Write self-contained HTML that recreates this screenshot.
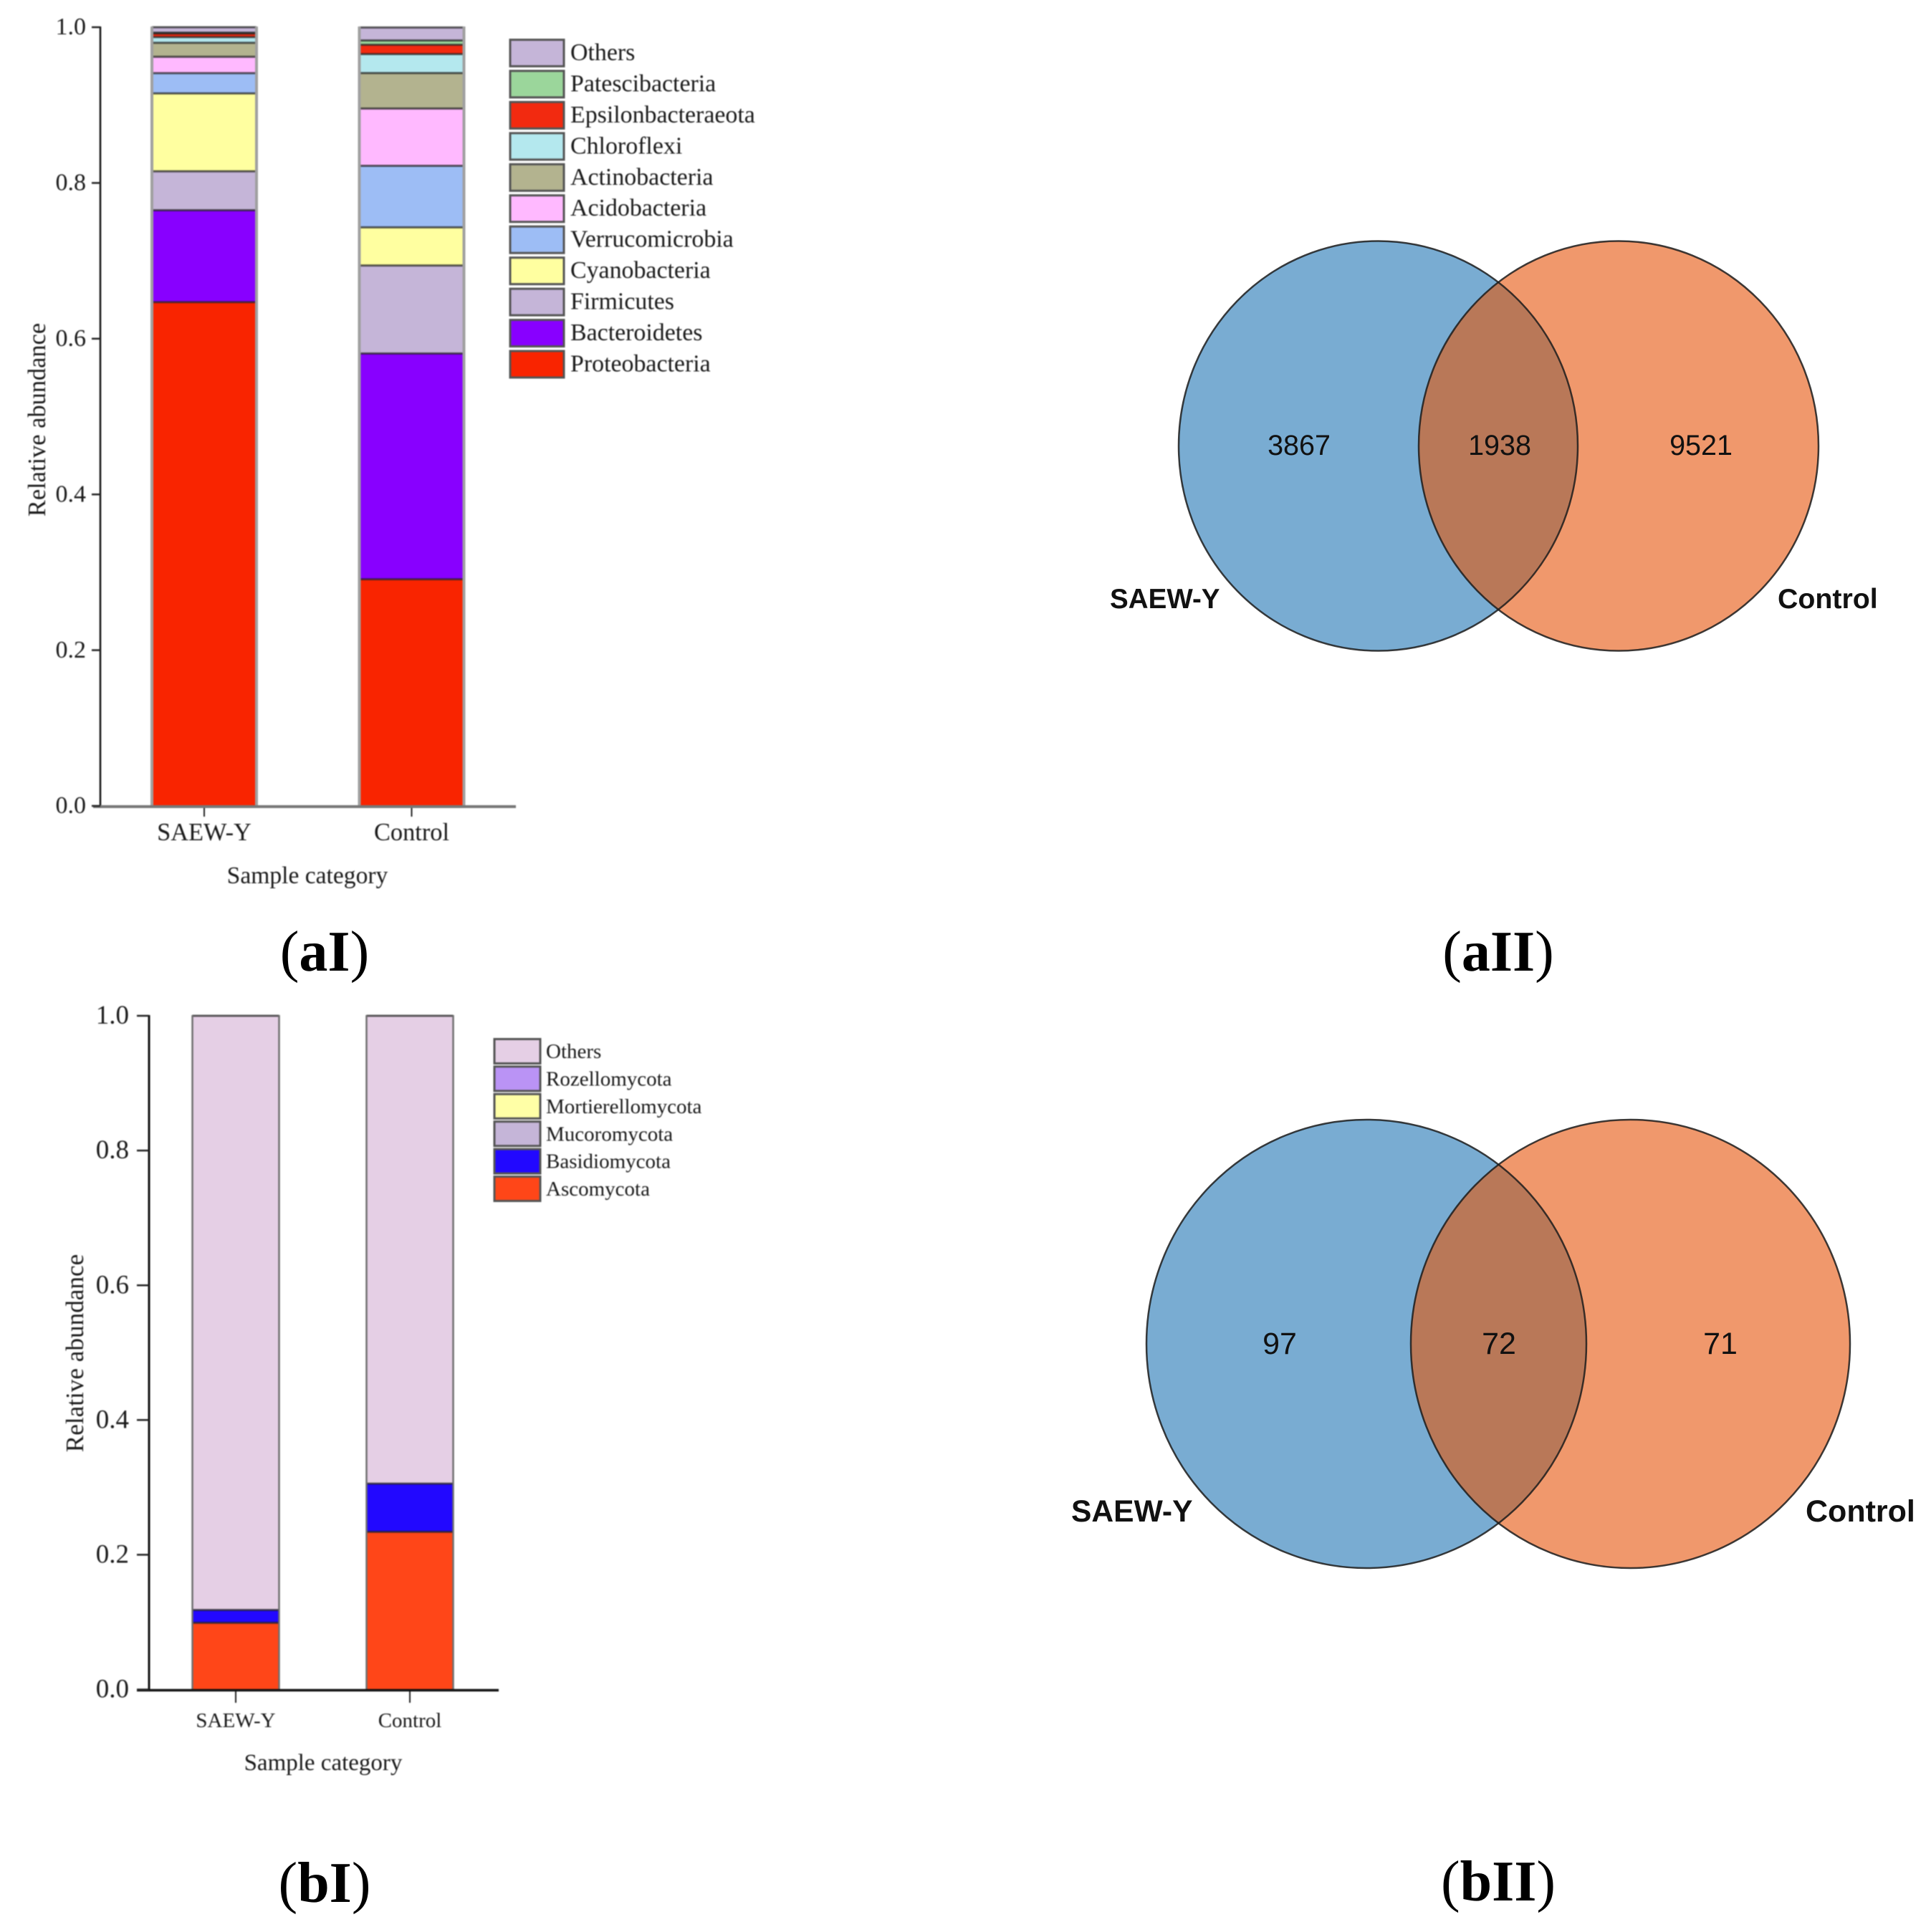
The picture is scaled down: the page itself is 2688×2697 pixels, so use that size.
<!DOCTYPE html>
<html lang="en">
<head>
<meta charset="utf-8">
<title>Relative abundance and Venn diagrams</title>
<style>
  html,body{margin:0;padding:0;background:#fff;}
  svg{display:block;}
  .serif{font-family:"Liberation Serif",serif;fill:#1a1a1a;}
  .sans{font-family:"Liberation Sans",sans-serif;fill:#111;}
  .panel{font-family:"Liberation Serif",serif;font-weight:bold;font-size:80px;fill:#000;text-anchor:middle;}
  .paren{font-weight:normal;}
  .soft{filter:blur(0.9px);}
</style>
</head>
<body>
<svg id="figure" xmlns="http://www.w3.org/2000/svg" width="2688" height="2697" viewBox="0 0 2688 2697">
  <rect width="2688" height="2697" fill="#fff"/>
  <defs>
    <clipPath id="clip-a"><ellipse cx="1923.5" cy="622.5" rx="278.5" ry="286"/></clipPath>
    <clipPath id="clip-b"><ellipse cx="1907" cy="1876" rx="307" ry="313"/></clipPath>
  </defs>

  <g id="chart-a" class="soft">
    <text class="serif" font-size="34.4" text-anchor="middle" transform="translate(63,586) rotate(-90)">Relative abundance</text>
    <text class="serif" font-size="33.6" text-anchor="middle" x="429" y="1233">Sample category</text>
  </g>
  <g id="chart-b" class="soft">
    <text class="serif" font-size="35.2" text-anchor="middle" transform="translate(116,1889) rotate(-90)">Relative abundance</text>
    <text class="serif" font-size="33" text-anchor="middle" x="451" y="2471">Sample category</text>
  </g>

  <g>
    <ellipse cx="1923.5" cy="622.5" rx="278.5" ry="286" fill="#79acd2"/>
    <ellipse cx="2259" cy="622.5" rx="279" ry="286" fill="#f0986c"/>
    <ellipse cx="2259" cy="622.5" rx="279" ry="286" fill="#b97858" clip-path="url(#clip-a)"/>
    <ellipse cx="1923.5" cy="622.5" rx="278.5" ry="286" fill="none" stroke="#1c1c1c" stroke-opacity=".85" stroke-width="2.5"/>
    <ellipse cx="2259" cy="622.5" rx="279" ry="286" fill="none" stroke="#1c1c1c" stroke-opacity=".85" stroke-width="2.5"/>
    <text class="sans" font-size="39.5" text-anchor="middle" x="1813" y="635">3867</text>
    <text class="sans" font-size="39.5" text-anchor="middle" x="2093" y="635">1938</text>
    <text class="sans" font-size="39.5" text-anchor="middle" x="2374" y="635">9521</text>
    <text class="sans" font-weight="bold" font-size="38.6" x="1549" y="849">SAEW-Y</text>
    <text class="sans" font-weight="bold" font-size="39.3" x="2481" y="849">Control</text>
  </g>

  <g>
    <ellipse cx="1907" cy="1876" rx="307" ry="313" fill="#79acd2"/>
    <ellipse cx="2275.5" cy="1876" rx="306.5" ry="313" fill="#f0986c"/>
    <ellipse cx="2275.5" cy="1876" rx="306.5" ry="313" fill="#b97858" clip-path="url(#clip-b)"/>
    <ellipse cx="1907" cy="1876" rx="307" ry="313" fill="none" stroke="#1c1c1c" stroke-opacity=".85" stroke-width="2.5"/>
    <ellipse cx="2275.5" cy="1876" rx="306.5" ry="313" fill="none" stroke="#1c1c1c" stroke-opacity=".85" stroke-width="2.5"/>
    <text class="sans" font-size="43" text-anchor="middle" x="1786" y="1890">97</text>
    <text class="sans" font-size="43" text-anchor="middle" x="2092" y="1890">72</text>
    <text class="sans" font-size="43" text-anchor="middle" x="2401" y="1890">71</text>
    <text class="sans" font-weight="bold" font-size="42.6" x="1495" y="2124">SAEW-Y</text>
    <text class="sans" font-weight="bold" font-size="43" x="2520" y="2124">Control</text>
  </g>

  <text class="panel" x="453" y="1355"><tspan class="paren">(</tspan>aI<tspan class="paren">)</tspan></text>
  <text class="panel" x="2091" y="1355"><tspan class="paren">(</tspan>aII<tspan class="paren">)</tspan></text>
  <text class="panel" x="453" y="2655"><tspan class="paren">(</tspan>bI<tspan class="paren">)</tspan></text>
  <text class="panel" x="2091" y="2653"><tspan class="paren">(</tspan>bII<tspan class="paren">)</tspan></text>
</svg>

<script>
// ---- Chart data (bottom of the stack first) ----
const categories = ['SAEW-Y', 'Control'];
const yTicks = [0, 0.2, 0.4, 0.6, 0.8, 1.0];

const bacteriaNames = ['Proteobacteria', 'Bacteroidetes', 'Firmicutes', 'Cyanobacteria', 'Verrucomicrobia', 'Acidobacteria', 'Actinobacteria', 'Chloroflexi', 'Epsilonbacteraeota', 'Patescibacteria', 'Others'];
const bacteriaSaew = [0.647, 0.118, 0.050, 0.100, 0.026, 0.021, 0.018, 0.0074, 0.0046, 0.001, 0.007];
const bacteriaControl = [0.291, 0.290, 0.113, 0.049, 0.079, 0.0736, 0.0455, 0.0244, 0.012, 0.0055, 0.0166];
const bacteriaColors = ['#f92400', '#8800ff', '#c5b5d8', '#ffffa0', '#9dbdf5', '#ffb9ff', '#b3b38f', '#b4e8ee', '#f22a10', '#9bd69b', '#c5b5d8'];

const fungiNames = ['Ascomycota', 'Basidiomycota', 'Mucoromycota', 'Mortierellomycota', 'Rozellomycota', 'Others'];
const fungiSaew = [0.099, 0.019, 0, 0, 0, 0.882];
const fungiControl = [0.234, 0.0716, 0, 0, 0, 0.6944];
const fungiColors = ['#ff4618', '#2208ff', '#c5b5d8', '#ffffa6', '#ba93f5', '#e5cfe5'];

const SVGNS = 'http://www.w3.org/2000/svg';
function make(parent, tag, attrs, text) {
  const e = document.createElementNS(SVGNS, tag);
  for (const k in attrs) e.setAttribute(k, attrs[k]);
  if (text !== undefined) e.textContent = text;
  parent.appendChild(e);
  return e;
}

function drawChart(parent, layout, names, colors, seriesByCategory) {
  const yScale = v => layout.y0 - v * (layout.y0 - layout.y1);
  const xCenter = i => layout.firstCenter + i * layout.step;

  seriesByCategory.forEach(function (values, c) {
    const left = xCenter(c) - layout.barWidth / 2;
    const right = xCenter(c) + layout.barWidth / 2;
    let cumulative = 0;
    values.forEach(function (v, s) {
      const yTop = yScale(cumulative + v);
      const yBottom = yScale(cumulative);
      cumulative += v;
      if (v <= 0) return;
      const seg = make(parent, 'rect', { x: left, y: yTop, width: layout.barWidth, height: yBottom - yTop, fill: colors[s] });
      
      
    });
    cumulative = 0;
    values.forEach(function (v, s) {
      cumulative += v;
      if (v <= 0) return;
      const yLine = yScale(cumulative);
      const sep = make(parent, 'line', { x1: left, x2: right, y1: yLine, y2: yLine, stroke: '#222', 'stroke-opacity': 0.72, 'stroke-width': layout.sepWidth });
      
      
    });
    [left, right].forEach(function (xEdge) {
      const edge = make(parent, 'line', { x1: xEdge, x2: xEdge, y1: yScale(1) - 1, y2: yScale(0), stroke: layout.edgeColor, 'stroke-width': layout.edgeWidth });
      
      
    });
    const tick = make(parent, 'line', { x1: xCenter(c), x2: xCenter(c), y1: layout.y0, y2: layout.xTickEnd, stroke: '#222', 'stroke-width': 2 });
    
    
    const xLabel = make(parent, 'text', { x: xCenter(c), y: layout.xLabelY, 'font-size': layout.xLabelSize, 'text-anchor': 'middle', class: 'serif' }, categories[c]);
    
    
  });

  const yAxis = make(parent, 'line', { x1: layout.axisX, x2: layout.axisX, y1: yScale(1) - 1, y2: yScale(0) + 1, stroke: '#111', 'stroke-width': layout.yAxisWidth });
  
  
  const xAxis = make(parent, 'line', { x1: layout.xAxisStart, x2: layout.xAxisEnd, y1: layout.y0 + 1, y2: layout.y0 + 1, stroke: layout.xAxisColor, 'stroke-width': layout.xAxisWidth });
  
  

  yTicks.forEach(function (t) {
    const tk = make(parent, 'line', { x1: layout.yTickStart, x2: layout.axisX, y1: yScale(t), y2: yScale(t), stroke: '#222', 'stroke-width': 2.5 });
    
    
    const lbl = make(parent, 'text', { x: layout.yLabelRight, y: yScale(t) + layout.yLabelSize * 0.3, 'font-size': layout.yLabelSize, 'text-anchor': 'end', class: 'serif' }, t.toFixed(1));
    
    
  });

  names.slice().reverse().forEach(function (name, i) {
    const colour = colors[names.length - 1 - i];
    const cy = layout.legendY + i * layout.legendStep;
    const sw = make(parent, 'rect', { x: layout.legendX, y: cy - layout.swatchH / 2, width: layout.swatchW, height: layout.swatchH, fill: colour, stroke: '#555', 'stroke-width': 3 });
    
    
    const lt = make(parent, 'text', { x: layout.legendTextX, y: cy + layout.legendSize * 0.28 + layout.legendTextShift, 'font-size': layout.legendSize, class: 'serif' }, name);
    
    
  });
}

drawChart(document.getElementById('chart-a'), {
  y0: 1125, y1: 38, firstCenter: 285, step: 289.5, barWidth: 146,
  sepWidth: 3, edgeColor: '#a0a0a0', edgeWidth: 4,
  axisX: 140, yAxisWidth: 2.5, xAxisStart: 130, xAxisEnd: 720, xAxisColor: '#777', xAxisWidth: 4,
  yTickStart: 128, yLabelRight: 120, yLabelSize: 34,
  xTickEnd: 1140, xLabelY: 1173, xLabelSize: 34.4,
  legendX: 712, legendY: 74, legendStep: 43.45, swatchW: 75, swatchH: 37,
  legendTextX: 796, legendSize: 33.9, legendTextShift: 0.5
}, bacteriaNames, bacteriaColors, [bacteriaSaew, bacteriaControl]);

drawChart(document.getElementById('chart-b'), {
  y0: 2358.5, y1: 1418, firstCenter: 329, step: 243, barWidth: 121,
  sepWidth: 3, edgeColor: '#6f6f6f', edgeWidth: 2.5,
  axisX: 208, yAxisWidth: 3, xAxisStart: 191, xAxisEnd: 696, xAxisColor: '#111', xAxisWidth: 3.5,
  yTickStart: 191, yLabelRight: 180, yLabelSize: 37,
  xTickEnd: 2377, xLabelY: 2411, xLabelSize: 29,
  legendX: 690, legendY: 1467.5, legendStep: 38.4, swatchW: 64, swatchH: 34,
  legendTextX: 762, legendSize: 29, legendTextShift: 1.5
}, fungiNames, fungiColors, [fungiSaew, fungiControl]);
</script>
</body>
</html>
